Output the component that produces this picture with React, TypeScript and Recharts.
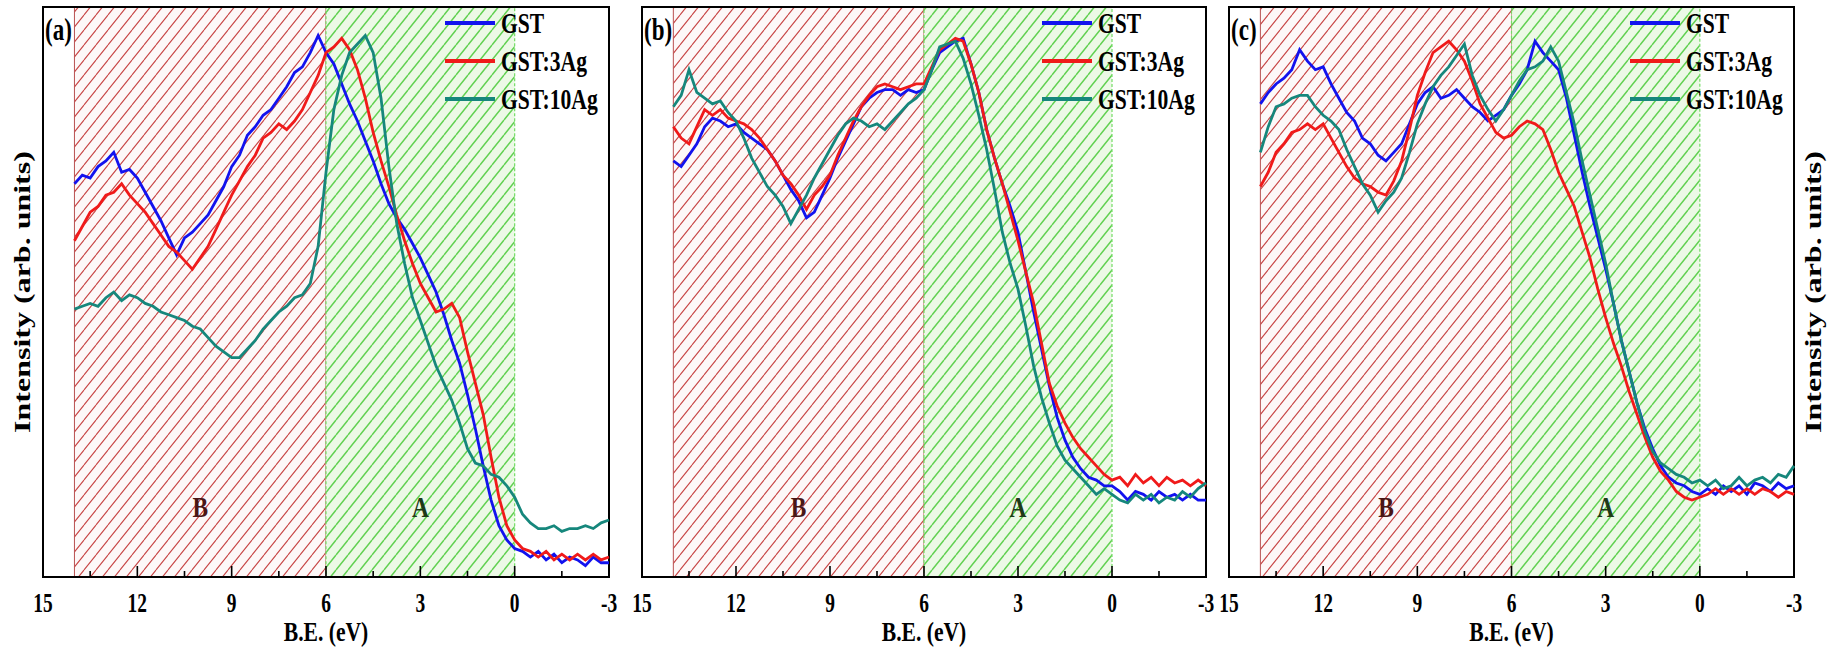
import React from "react";
import { LineChart, Line, XAxis, YAxis, ReferenceArea, Legend } from "recharts";

// binding energy (eV), 0.25 eV steps
const energy = [
  14, 13.75, 13.5, 13.25, 13, 12.75, 12.5, 12.25, 12, 11.75, 11.5, 11.25,
  11, 10.75, 10.5, 10.25, 10, 9.75, 9.5, 9.25, 9, 8.75, 8.5, 8.25,
  8, 7.75, 7.5, 7.25, 7, 6.75, 6.5, 6.25, 6, 5.75, 5.5, 5.25,
  5, 4.75, 4.5, 4.25, 4, 3.75, 3.5, 3.25, 3, 2.75, 2.5, 2.25,
  2, 1.75, 1.5, 1.25, 1, 0.75, 0.5, 0.25, 0, -0.25, -0.5, -0.75,
  -1, -1.25, -1.5, -1.75, -2, -2.25, -2.5, -2.75, -3,
];

// panel (a)
const gstA = [
  69, 70.5, 70, 72, 73, 74.5, 71, 71.5, 70, 67.5, 65, 62.5,
  59.5, 56.5, 59.5, 60.5, 62, 63.5, 66, 68.5, 72, 74, 77.5, 79,
  81, 82, 84, 86, 88.5, 89.5, 92, 95, 92, 90, 86.5, 83,
  80, 76.5, 73, 69, 65.5, 63, 61, 58.5, 56, 53, 50, 46,
  41.5, 37.5, 32, 26, 19.5, 13.5, 9, 6.5, 5, 4.5, 3.5, 4.5,
  3, 4, 2.5, 3.5, 3, 2, 3.5, 2.5, 2.5,
];
const ag3A = [
  59, 61.5, 64, 65, 67, 67.5, 69, 67, 65.5, 64, 62, 60,
  58, 57, 55.5, 54, 56, 58, 61, 64, 67, 69.5, 72, 74,
  77, 78, 79.5, 78.5, 80, 82, 85, 88, 92, 93, 94.5, 92.5,
  89, 84, 78, 73, 68.5, 63.5, 59, 55, 51.5, 49, 46.5, 47,
  48, 45.5, 39.5, 34, 28.5, 21, 14, 9, 6.5, 5, 4.5, 3.5,
  4.5, 3, 4, 3, 4, 3, 4, 3, 3.5,
];
const ag10A = [
  47, 47.5, 48, 47.5, 49, 50, 48.5, 49.5, 49, 48, 47.5, 46.5,
  46, 45.5, 45, 44, 43.5, 42, 40.5, 39.5, 38.5, 38.5, 40, 41.5,
  43.5, 45, 46.5, 47.5, 49, 49.5, 51.5, 58, 71, 82, 88, 92,
  93.5, 95, 92, 84, 72, 62, 55, 49, 45, 41, 37, 34,
  31, 27, 22.5, 20, 19.5, 18, 17.5, 16, 14, 11, 9.5, 8.5,
  8.5, 9, 8, 8.5, 8.5, 9, 8.5, 9.5, 10,
];

// panel (b)
const gstB = [
  73, 72, 74, 76, 79, 80.5, 80, 79, 79.5, 78, 77, 76,
  75, 73, 70.5, 68, 66, 63, 64, 67, 70, 73.5, 76.5, 79.5,
  82.5, 84, 85, 85.5, 85.5, 84.5, 85.5, 85, 85.5, 89, 92, 93,
  94, 94.5, 90, 85, 78.5, 73.5, 69, 65, 60.5, 53.5, 46.5, 40,
  33.5, 28, 24, 21, 19, 17.5, 17, 16, 16, 15, 13.5, 15,
  14.5, 13.5, 15, 14, 14.5, 13.5, 14.5, 13.5, 13.5,
];
const ag3B = [
  79, 77, 76, 79, 82, 81, 82, 80.5, 80, 79.5, 78.5, 77,
  75, 73, 70.5, 69, 67, 64.5, 67, 68.5, 70.5, 74, 77, 80,
  82.5, 84.5, 86, 86.5, 86, 85.5, 86, 86.5, 86.5, 89.5, 92.5, 93.5,
  94.5, 94, 90, 85, 78.5, 73.5, 69, 64, 59, 53.5, 48, 41,
  34, 30, 27, 24.5, 22.5, 21, 19.5, 18, 17, 17.5, 16, 18,
  16.5, 17.5, 16, 17.5, 16.5, 17, 16, 17, 16,
];
const ag10B = [
  82.5, 84.5, 89, 85, 84, 83, 83.5, 81.5, 80, 77, 73.5, 71,
  68.5, 67, 65, 62, 64.5, 67, 70, 72.5, 75, 77.5, 79.5, 80.5,
  80, 79, 79.5, 78.5, 80, 81.5, 83, 84, 85.5, 89, 93, 93.5,
  94, 91, 86.5, 81, 75, 68, 60.5, 55, 50.5, 44, 37, 31.5,
  27, 23, 20.5, 19, 17.5, 16, 14.5, 15.5, 14.5, 13.5, 13, 14.5,
  13.5, 14.5, 13, 14, 13.5, 15, 14, 15.5, 16.5,
];

// panel (c)
const gstC = [
  83, 85, 86.5, 87.5, 89, 92.5, 90.5, 89, 89.5, 86.5, 84, 81.5,
  80, 77, 76, 74, 73, 74.5, 76, 79.5, 83, 85, 86, 84,
  84.5, 85.5, 84, 82.5, 81.5, 80, 81, 82, 84.5, 86.5, 89, 94,
  92, 90.5, 89, 84, 77.5, 71, 65, 59.5, 54, 48, 41.5, 36,
  30.5, 26, 22.5, 19.5, 17.5, 16.5, 16, 15, 14.5, 15.5, 14.5, 16,
  15, 16, 14.5, 16.5, 16, 15, 16.5, 15.5, 16,
];
const ag3C = [
  68.5, 71, 74.5, 76, 78, 78.5, 79.5, 78.5, 79.5, 77, 74.5, 72,
  70, 69, 68.5, 67.5, 67, 69.5, 73, 78.5, 84.5, 88.5, 92, 93,
  94, 92.5, 90.5, 87, 83, 80.5, 78, 77, 77.5, 79, 80, 79.5,
  78.5, 75, 71, 68, 65, 60.5, 56, 50.5, 45.5, 41, 37, 32.5,
  28.5, 24.5, 21, 18.5, 17, 15, 14, 13.5, 14, 14.5, 15.5, 14.5,
  15.5, 14.5, 15.5, 14.5, 15.5, 15, 14, 15, 14.5,
];
const ag10C = [
  74.5, 79, 82.5, 83, 84, 84.5, 84.5, 82.5, 81, 80, 78.5, 75,
  72, 69, 67, 64, 66, 67.5, 70, 74.5, 79.5, 83, 86, 88,
  89.5, 91.5, 93.5, 88, 84.5, 82, 80, 82, 84.5, 87, 89, 89.5,
  90.5, 93, 90.5, 85, 79.5, 73, 67, 61, 55, 48, 41.5, 36,
  30.5, 25.5, 22, 20, 19, 18, 17.5, 16.5, 17, 16, 17, 15.5,
  16, 17.5, 16, 17, 17.5, 16.5, 18, 17.5, 19.5,
];

const energyTicks = [15, 13.5, 12, 10.5, 9, 7.5, 6, 4.5, 3, 1.5, 0, -1.5, -3];
const seriesNames = ["GST", "GST:3Ag", "GST:10Ag"];
const seriesColors = ["#1212ee", "#f01a1a", "#16877c"];

const FONT = "'Liberation Serif', 'Times New Roman', serif";
const SQ = 0.72; // the original figure is squeezed horizontally

function SqText({ x, y, size, anchor = "middle", fill = "#000", squeeze = SQ, children }: any) {
  return (
    <text
      transform={`translate(${x},${y}) scale(${squeeze},1)`}
      textAnchor={anchor}
      fontFamily={FONT}
      fontWeight="bold"
      fontSize={size}
      fill={fill}
    >
      {children}
    </text>
  );
}

function EnergyTick({ x, y, payload }: any) {
  const v = payload.value;
  const major = v % 3 === 0;
  return (
    <g>
      <line x1={x} x2={x} y1={y} y2={y - (major ? 11 : 6)} stroke="#000" strokeWidth={1.6} />
      {major && (
        <SqText x={x} y={y + 35} size={27}>
          {String(v)}
        </SqText>
      )}
    </g>
  );
}

function PanelLegend() {
  return (
    <svg width={172} height={120}>
      {seriesNames.map((name, i) => (
        <g key={name}>
          <line x1={0} x2={50} y1={16 + i * 38} y2={16 + i * 38} stroke={seriesColors[i]} strokeWidth={4} />
          <SqText x={56} y={26 + i * 38} size={30} anchor="start">
            {name}
          </SqText>
        </g>
      ))}
    </svg>
  );
}

function IntensityLabel({ viewBox }: any) {
  const cx = viewBox.x + viewBox.width / 2 + 8;
  const cy = viewBox.y + viewBox.height / 2;
  return (
    <text
      transform={`translate(${cx},${cy}) rotate(-90) scale(1,${SQ})`}
      textAnchor="middle"
      fontFamily={FONT}
      fontWeight="bold"
      fontSize={32}
      fill="#000"
    >
      Intensity (arb. units)
    </text>
  );
}

type PanelProps = {
  tag: string;
  left: number;
  width: number;
  marginLeft: number;
  marginRight: number;
  series: number[][];
  yLabel?: "left" | "right";
};

function Panel({ tag, left, width, marginLeft, marginRight, series, yLabel }: PanelProps) {
  const rows = energy.map((x, i) => ({ x, s0: series[0][i], s1: series[1][i], s2: series[2][i] }));
  const plotRight = width - marginRight - (yLabel === "right" ? 38 : 0);
  return (
    <div style={{ position: "absolute", left, top: 0 }}>
      <LineChart
        width={width}
        height={650}
        data={rows}
        margin={{ top: 7, right: marginRight, bottom: 0, left: marginLeft }}
      >
        <defs>
          <pattern id={`hatchB-${tag}`} patternUnits="userSpaceOnUse" width={12} height={15}>
            <rect width={12} height={15} fill="#fdf8f8" />
            <path d="M0,15 L12,0 M-12,15 L0,0 M12,15 L24,0" stroke="#c84646" strokeWidth={1.1} />
          </pattern>
          <pattern id={`hatchA-${tag}`} patternUnits="userSpaceOnUse" width={12} height={15}>
            <rect width={12} height={15} fill="#ecf9e6" />
            <path d="M0,15 L12,0 M-12,15 L0,0 M12,15 L24,0" stroke="#62d152" strokeWidth={1.5} />
          </pattern>
        </defs>
        <XAxis
          dataKey="x"
          type="number"
          domain={[-3, 15]}
          reversed
          ticks={energyTicks}
          interval={0}
          tickSize={0}
          tickMargin={0}
          tickLine={false}
          axisLine={false}
          height={73}
          tick={(p: any) => <EnergyTick {...p} />}
          label={{
            value: "B.E. (eV)",
            content: (p: any) => (
              <SqText
                x={p.viewBox.x + p.viewBox.width / 2}
                y={p.viewBox.y + p.viewBox.height - 9}
                size={27}
                squeeze={0.8}
              >
                B.E. (eV)
              </SqText>
            ),
          }}
        />
        {yLabel ? (
          <YAxis
            type="number"
            domain={[0, 100]}
            orientation={yLabel}
            width={yLabel === "left" ? 43 : 38}
            tick={false}
            tickLine={false}
            axisLine={false}
            label={{ value: "Intensity (arb. units)", content: (p: any) => <IntensityLabel {...p} /> }}
          />
        ) : (
          <YAxis type="number" domain={[0, 100]} hide />
        )}
        <ReferenceArea
          x1={14}
          x2={6}
          y1={0}
          y2={100}
          fill={`url(#hatchB-${tag})`}
          fillOpacity={1}
          stroke="#b85050"
          strokeWidth={1}
          label={{
            value: "B",
            content: (p: any) => (
              <SqText x={p.viewBox.x + p.viewBox.width / 2} y={p.viewBox.y + p.viewBox.height - 60} size={30} squeeze={0.78} fill="#4a1616">
                B
              </SqText>
            ),
          }}
        />
        <ReferenceArea
          x1={6}
          x2={0}
          y1={0}
          y2={100}
          fill={`url(#hatchA-${tag})`}
          fillOpacity={1}
          stroke="#74dc66"
          strokeWidth={1.2}
          strokeDasharray="3 2"
          label={{
            value: "A",
            content: (p: any) => (
              <SqText x={p.viewBox.x + p.viewBox.width / 2} y={p.viewBox.y + p.viewBox.height - 60} size={30} squeeze={0.78} fill="#1e3a18">
                A
              </SqText>
            ),
          }}
        />
        {[0, 1, 2].map((i) => (
          <Line
            key={i}
            dataKey={`s${i}`}
            name={seriesNames[i]}
            stroke={seriesColors[i]}
            strokeWidth={2.8}
            dot={false}
            type="linear"
            isAnimationActive={false}
          />
        ))}
        <ReferenceArea
          x1={15}
          x2={-3}
          y1={0}
          y2={100}
          fill="none"
          stroke="#000"
          strokeWidth={2}
          label={{
            value: `(${tag})`,
            content: (p: any) => (
              <SqText x={p.viewBox.x + 2} y={p.viewBox.y + 33} size={32} anchor="start">
                {`(${tag})`}
              </SqText>
            ),
          }}
        />
        <Legend
          layout="vertical"
          align="center"
          verticalAlign="middle"
          content={() => <PanelLegend />}
          wrapperStyle={{ left: plotRight - 164, top: 7, width: 172, height: 120 }}
        />
      </LineChart>
    </div>
  );
}

export default function App() {
  return (
    <div style={{ position: "absolute", left: 0, top: 0, width: 1832, height: 650, background: "#fff" }}>
      <Panel tag="a" left={0} width={620} marginLeft={0} marginRight={11} series={[gstA, ag3A, ag10A]} yLabel="left" />
      <Panel tag="b" left={620} width={600} marginLeft={22} marginRight={14} series={[gstB, ag3B, ag10B]} />
      <Panel tag="c" left={1220} width={612} marginLeft={9} marginRight={0} series={[gstC, ag3C, ag10C]} yLabel="right" />
    </div>
  );
}
